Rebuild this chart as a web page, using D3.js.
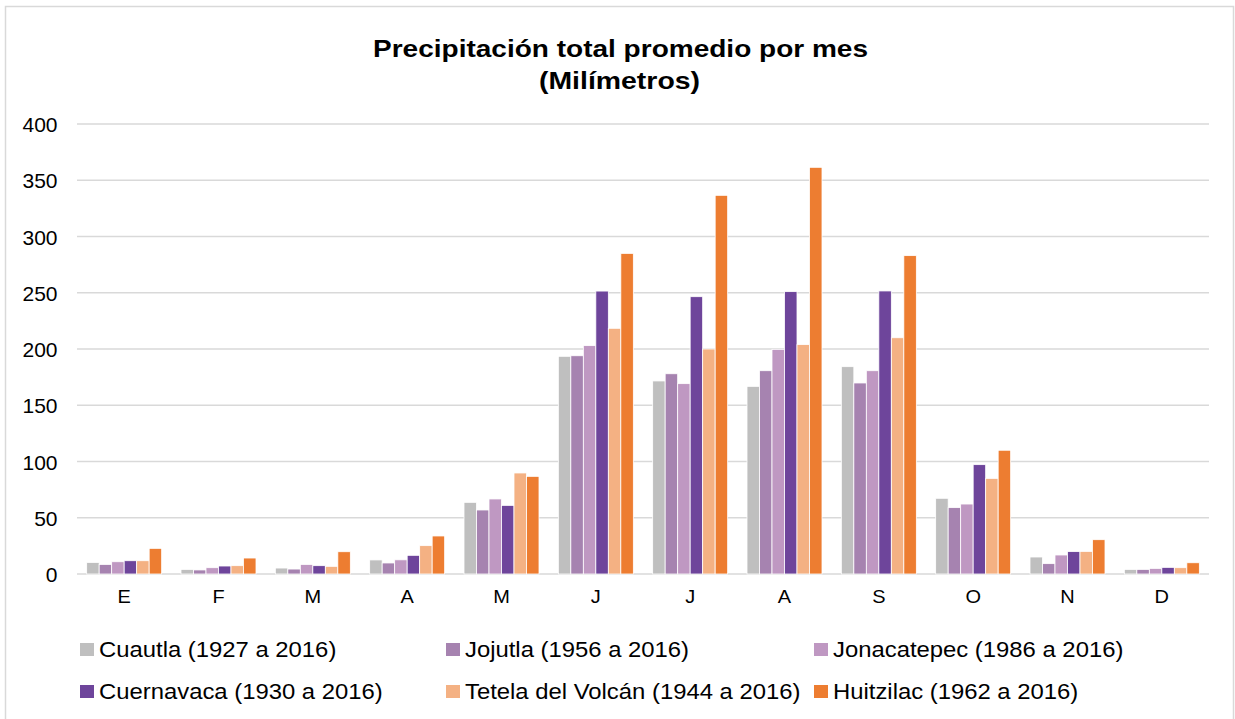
<!DOCTYPE html>
<html><head><meta charset="utf-8">
<script src="https://cdn.jsdelivr.net/npm/d3@7"></script>
<style>body{margin:0;background:#fff;} text{font-family:"Liberation Sans",Arial,sans-serif;}</style>
</head><body>
<svg id="c" width="1235" height="719"></svg>
<script>
const months = ["E","F","M","A","M","J","J","A","S","O","N","D"];
const seriesNames = ["Cuautla (1927 a 2016)","Jojutla (1956 a 2016)","Jonacatepec (1986 a 2016)","Cuernavaca (1930 a 2016)","Tetela del Volcán (1944 a 2016)","Huitzilac (1962 a 2016)"];
const cuautla     = [10.3, 4.1, 5.3, 12.5, 63.7, 193.5, 171.6, 166.8, 184.3, 67.3, 15.1, 4.1];
const jojutla     = [8.5, 3.6, 4.4, 9.8, 56.9, 194, 178, 180.7, 169.8, 59, 9.2, 4.1];
const jonacatepec = [10.9, 5.6, 8.5, 12.6, 66.7, 203, 169.2, 199.7, 180.7, 62.2, 16.9, 5];
const cuernavaca  = [11.8, 7.1, 7.4, 16.6, 61, 251.5, 246.5, 251, 251.6, 97.2, 19.9, 5.9];
const tetela      = [11.8, 7.4, 6.8, 25.2, 89.8, 218.4, 200, 203.9, 210, 85, 20.1, 5.6];
const huitzilac   = [22.8, 14.2, 19.8, 33.8, 86.8, 285, 336.6, 361.5, 283, 110, 30.5, 10];
const yTicks = [0,50,100,150,200,250,300,350,400];
const colors = ["#bfbfbf","#a683b0","#bf98c2","#6e459b","#f4b183","#ed7d31"];
const series = [cuautla, jojutla, jonacatepec, cuernavaca, tetela, huitzilac];

(function(){
const svg = d3.select("#c");
svg.append("rect").attr("x",5.5).attr("y",6.5).attr("width",1228).attr("height",720)
  .attr("fill","#fff").attr("stroke","#d9d9d9").attr("stroke-width",1.5);

const pL = 77, pR = 1209, pT = 124, pB = 574;
const x0 = d3.scaleBand().domain(d3.range(12)).range([pL,pR]).paddingInner(0.205).paddingOuter(0.1025);
const x1 = d3.scaleBand().domain(d3.range(6)).range([0,x0.bandwidth()]);
const y = d3.scaleLinear().domain([0,400]).range([pB,pT]);

svg.append("g").selectAll("line").data(yTicks).join("line")
  .attr("x1",pL).attr("x2",pR).attr("y1",d=>y(d)).attr("y2",d=>y(d))
  .attr("stroke","#d9d9d9").attr("stroke-width",1.5);

svg.append("g").selectAll("text").data(yTicks).join("text")
  .attr("x",57.5).attr("y",d=>y(d)+8).attr("text-anchor","end")
  .attr("font-size",21).attr("fill","#000").text(d=>d);

const g = svg.append("g");
series.forEach((s,si)=>{
  g.append("g").selectAll("rect").data(s).join("rect")
    .attr("x",(d,i)=>x0(i)+x1(si)).attr("width",x1.bandwidth())
    .attr("y",d=>y(d)).attr("height",d=>y(0)-y(d))
    .attr("fill",colors[si]).attr("stroke","#fff").attr("stroke-width",0.8);
});

svg.append("g").selectAll("text").data(months).join("text")
  .attr("x",(d,i)=>x0(i)+x0.bandwidth()/2).attr("y",603.5)
  .attr("text-anchor","middle").attr("font-size",18.5).attr("fill","#000")
  .attr("transform",(d,i)=>{const cx=x0(i)+x0.bandwidth()/2;return `translate(${cx},0) scale(1.08,1) translate(${-cx},0)`;})
  .text(d=>d);

svg.append("text").attr("x",620.5).attr("y",56.7).attr("text-anchor","middle")
  .attr("font-size",24).attr("font-weight","bold")
  .attr("textLength",495).attr("lengthAdjust","spacingAndGlyphs")
  .text("Precipitación total promedio por mes");
svg.append("text").attr("x",619.5).attr("y",89.3).attr("text-anchor","middle")
  .attr("font-size",24).attr("font-weight","bold")
  .attr("textLength",161).attr("lengthAdjust","spacingAndGlyphs")
  .text("(Milímetros)");

const legX = [80, 446, 814], legY = [649.5, 691.5];
const leg = svg.append("g").selectAll("g").data(seriesNames).join("g")
  .attr("transform",(d,i)=>`translate(${legX[i%3]},${legY[Math.floor(i/3)]})`);
leg.append("rect").attr("x",0).attr("y",-6.5).attr("width",14).attr("height",13).attr("fill",(d,i)=>colors[i]);
leg.append("text").attr("x",19).attr("y",7.5).attr("font-size",22).attr("fill","#000").text(d=>d)
  .each(function(){ const w=this.getComputedTextLength(); d3.select(this).attr("textLength",w*1.084).attr("lengthAdjust","spacingAndGlyphs"); });
})();
</script>
</body></html>
